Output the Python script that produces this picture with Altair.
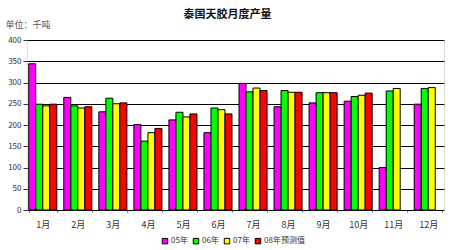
import altair as alt
import pandas as pd

months = ["1月", "2月", "3月", "4月", "5月", "6月", "7月", "8月", "9月", "10月", "11月", "12月"]
series = ["05年", "06年", "07年", "08年预测值"]
colors = ["#FF00FF", "#00FF00", "#FFFF00", "#FF0000"]
v05 = [344, 265, 231, 201, 212, 182, 298, 243, 252, 256, 100, 249]
v06 = [249, 245, 263, 162, 230, 240, 278, 281, 276, 267, 280, 286]
v07 = [245, 240, 250, 182, 219, 236, 287, 277, 276, 270, 286, 288]
v08 = [249, 243, 252, 192, 226, 226, 281, 277, 276, 275, None, None]

rows = []
for s, vals in zip(series, [v05, v06, v07, v08]):
    for m, v in zip(months, vals):
        if v is not None:
            rows.append({"month": m, "series": s, "value": v})
df = pd.DataFrame(rows)

font = "Noto Sans CJK SC"

chart = alt.Chart(df).mark_bar(stroke="black", strokeWidth=1).encode(
    x=alt.X("month:N", sort=months, title=None,
            scale=alt.Scale(paddingInner=0.2, paddingOuter=0.05),
            axis=alt.Axis(labelAngle=0, labelFontSize=9, labelColor="#333", labelFont=font,
                          labelPadding=8, tickBand="extent", tickSize=2, tickColor="#666",
                          domain=False, grid=False)),
    xOffset=alt.XOffset("series:N", sort=series, scale=alt.Scale(paddingInner=0, paddingOuter=0)),
    y=alt.Y("value:Q", title="单位：千吨",
            scale=alt.Scale(domain=[0, 400]),
            axis=alt.Axis(values=list(range(0, 401, 50)), labelFontSize=8, labelColor="#333",
                          labelFont=font, tickSize=4, tickColor="#333", domain=False,
                          grid=True, gridColor="#000", gridWidth=1,
                          titleAngle=0, titleX=-22, titleY=-11, titleAlign="left",
                          titleFontSize=9, titleFontWeight="normal", titleColor="#555",
                          titleFont=font)),
    color=alt.Color("series:N", sort=series,
                    scale=alt.Scale(domain=series, range=colors),
                    legend=alt.Legend(title=None, orient="none", legendX=134, legendY=197,
                                      direction="horizontal",
                                      symbolType="square", symbolSize=30, symbolStrokeColor="black",
                                      symbolStrokeWidth=1, labelFontSize=8, labelFont=font,
                                      labelColor="#333", columnPadding=3, labelOffset=2)),
).properties(
    width=417, height=170,
    title=alt.TitleParams("泰国天胶月度产量", fontSize=11, fontWeight="bold", font=font,
                          anchor="middle", color="#111", offset=6, dy=6, dx=-8),
    autosize=alt.AutoSizeParams(type="none"),
    padding={"left": 27, "top": 40, "right": 6, "bottom": 40},
).configure_view(stroke="#777", strokeWidth=1).configure(background="white")

chart.save("out.html", embed_options={"renderer": "svg", "actions": False})
